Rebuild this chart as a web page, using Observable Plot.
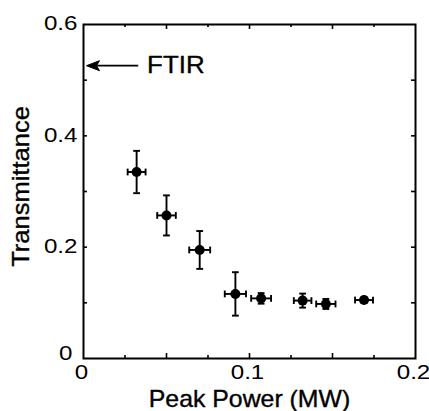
<!DOCTYPE html>
<html>
<head>
<meta charset="utf-8">
<script src="https://cdn.jsdelivr.net/npm/d3@7"></script>
<script src="https://cdn.jsdelivr.net/npm/@observablehq/plot@0.6"></script>
<style>
  html, body { margin: 0; padding: 0; background: #fff; }
  #chart { width: 429px; height: 411px; }
</style>
</head>
<body>
<div id="chart"></div>
<script>
// Data
const peakPower   = [0.032, 0.050, 0.070, 0.0915, 0.107, 0.132, 0.146, 0.169];
const transmit    = [0.335, 0.257, 0.195, 0.116, 0.108, 0.104, 0.098, 0.105];
const transErr    = [0.038, 0.036, 0.034, 0.039, 0.0095, 0.0126, 0.009, 0.005];
const powerErr    = [0.0054, 0.0056, 0.0063, 0.0064, 0.0060, 0.0053, 0.0058, 0.0054];
const xTickLabels = [0, 0.1, 0.2];
const yTickLabels = [0.2, 0.4, 0.6];
const xMajorTicks = [0.05, 0.1, 0.15];
const xMinorTicks = [0.025, 0.075, 0.125, 0.175];
const yTicks      = [0.1, 0.2, 0.3, 0.4, 0.5];
const ftirLevel   = 0.526;
const ftirLabel   = "FTIR";
const xLabel      = "Peak Power (MW)";
const yLabel      = "Transmittance";

const points = peakPower.map((p, i) => ({p, t: transmit[i], te: transErr[i], pe: powerErr[i]}));

const W = 429, H = 411, mT = 24, mL = 83, mR = 14, mB = 53;
const innerW = W - mL - mR, innerH = H - mT - mB;
const font = "'Liberation Sans', Arial, Helvetica, sans-serif";
const fmt = d => String(d);
const ink = {fill: "black", stroke: "black", strokeWidth: 0.35};

const capH = {draw(ctx) { ctx.moveTo(-3.4, 0); ctx.lineTo(3.4, 0); }};
const capV = {draw(ctx) { ctx.moveTo(0, -3.4); ctx.lineTo(0, 3.4); }};
const headL = {draw(ctx) { ctx.moveTo(0, 0); ctx.lineTo(13, -5); ctx.lineTo(10, 0); ctx.lineTo(13, 5); ctx.closePath(); }};

const chart = Plot.plot({
  width: W, height: H,
  marginTop: mT, marginLeft: mL, marginRight: mR, marginBottom: mB,
  style: {fontFamily: font, fontSize: "21px", color: "black", background: "white"},
  x: {domain: [0, 0.2]},
  y: {domain: [0, 0.6]},
  marks: [
    // inward ticks, all four sides
    Plot.ruleX(xMajorTicks, {x: d => d, insetTop: innerH - 5, strokeWidth: 1.6}),
    Plot.ruleX(xMinorTicks, {x: d => d, insetTop: innerH - 3, strokeWidth: 1.6}),
    Plot.ruleX(xMajorTicks, {x: d => d, insetBottom: innerH - 5, strokeWidth: 1.6}),
    Plot.ruleX(xMinorTicks, {x: d => d, insetBottom: innerH - 3, strokeWidth: 1.6}),
    Plot.ruleY(yTicks, {y: d => d, insetRight: innerW - 4, strokeWidth: 1.6}),
    Plot.ruleY(yTicks, {y: d => d, insetLeft: innerW - 4, strokeWidth: 1.6}),
    Plot.frame({stroke: "black", strokeWidth: 2}),
    // tick labels
    Plot.axisX(xTickLabels, {anchor: "bottom", tickSize: 0, tickPadding: 6, dx: -2, label: null, fontSize: 21, tickFormat: fmt, ...ink}),
    Plot.axisY(yTickLabels, {anchor: "left", tickSize: 0, tickPadding: 6, dy: -1, label: null, fontSize: 21, tickFormat: fmt, ...ink}),
    Plot.axisY([0], {anchor: "left", tickSize: 0, tickPadding: 11, dy: -5, label: null, fontSize: 21, tickFormat: fmt, ...ink}),
    // axis titles
    Plot.text([xLabel], {frameAnchor: "bottom", dy: 41.5, textAnchor: "middle", lineAnchor: "middle", fontSize: 23, text: d => d, ...ink}),
    Plot.text([yLabel], {frameAnchor: "left", dx: -62, dy: -5, rotate: -90, textAnchor: "middle", lineAnchor: "middle", fontSize: 23, text: d => d, ...ink}),
    // FTIR arrow
    Plot.link([ftirLevel], {x1: () => 0.033, x2: () => 0.006, y1: d => d, y2: d => d, strokeWidth: 1.8, stroke: "black"}),
    Plot.dot([ftirLevel], {x: () => 0.0018, y: d => d, symbol: headL, fill: "black", stroke: "black", strokeWidth: 1}),
    Plot.text([ftirLabel], {x: () => 0.0383, y: () => ftirLevel, text: d => d, textAnchor: "start", lineAnchor: "middle", fontSize: 24, ...ink}),
    // error bars
    Plot.ruleX(points, {x: "p", y1: d => d.t - d.te, y2: d => d.t + d.te, strokeWidth: 1.9}),
    Plot.ruleY(points, {y: "t", x1: d => d.p - d.pe, x2: d => d.p + d.pe, strokeWidth: 1.9}),
    Plot.dot(points, {x: "p", y: d => d.t - d.te, symbol: capH, stroke: "black", fill: "none", strokeWidth: 1.9}),
    Plot.dot(points, {x: "p", y: d => d.t + d.te, symbol: capH, stroke: "black", fill: "none", strokeWidth: 1.9}),
    Plot.dot(points, {x: d => d.p - d.pe, y: "t", symbol: capV, stroke: "black", fill: "none", strokeWidth: 1.9}),
    Plot.dot(points, {x: d => d.p + d.pe, y: "t", symbol: capV, stroke: "black", fill: "none", strokeWidth: 1.9}),
    // markers
    Plot.dot(points, {x: "p", y: "t", r: 5, fill: "black", stroke: "none"})
  ]
});

document.getElementById("chart").appendChild(chart);

// widen glyphs horizontally about their anchor to match the reference type
function widen(el, s) {
  const xa = parseFloat(el.getAttribute("x"));
  const x = isFinite(xa) ? xa : 0;
  const t = el.getAttribute("transform") || "";
  el.setAttribute("transform", `${t} translate(${x},0) scale(${s},1) translate(${-x},0)`);
}
chart.querySelectorAll("text").forEach(el => {
  const txt = el.textContent;
  if (txt === xLabel) widen(el, 1.08);
  else if (txt === yLabel) widen(el, 1.11);
  else if (txt === ftirLabel) widen(el, 1.08);
  else widen(el, 1.15);
});
</script>
</body>
</html>
